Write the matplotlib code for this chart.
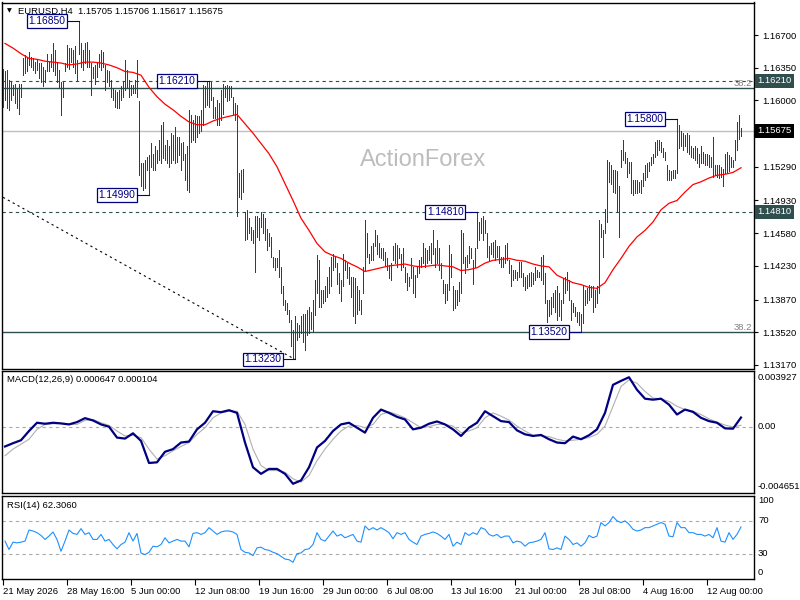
import numpy as np
import matplotlib
matplotlib.use('Agg')
import matplotlib.pyplot as plt
import matplotlib.transforms as mtransforms

# ---------------- data (EURUSD H4 bars) ----------------
highs = [
    1.1634, 1.1631, 1.1633, 1.1622, 1.1620, 1.1617, 1.1618, 1.1613, 1.1618, 1.1618,
    1.1645, 1.1649, 1.1647, 1.1652, 1.1647, 1.1645, 1.1641, 1.1643, 1.1640, 1.1640,
    1.1636, 1.1633, 1.1650, 1.1641, 1.1650, 1.1661, 1.1654, 1.1641, 1.1633, 1.1620,
    1.1620, 1.1640, 1.1659, 1.1656, 1.1656, 1.1654, 1.1658, 1.1643, 1.1685, 1.1661,
    1.1654, 1.1661, 1.1663, 1.1654, 1.1640, 1.1636, 1.1638, 1.1641, 1.1650, 1.1654,
    1.1652, 1.1638, 1.1633, 1.1631, 1.1622, 1.1613, 1.1611, 1.1609, 1.1611, 1.1615,
    1.1620, 1.1643, 1.1633, 1.1622, 1.1617, 1.1617, 1.1622, 1.1643, 1.1599, 1.1533,
    1.1533, 1.1536, 1.1540, 1.1542, 1.1554, 1.1543, 1.1551, 1.1547, 1.1558, 1.1574,
    1.1577, 1.1552, 1.1558, 1.1551, 1.1565, 1.1563, 1.1572, 1.1561, 1.1561, 1.1554,
    1.1556, 1.1543, 1.1551, 1.1590, 1.1584, 1.1579, 1.1584, 1.1583, 1.1583, 1.1590,
    1.1617, 1.1615, 1.1620, 1.1621, 1.1620, 1.1604, 1.1593, 1.1600, 1.1597, 1.1611,
    1.1618, 1.1615, 1.1617, 1.1615, 1.1615, 1.1604, 1.1597, 1.1595, 1.1522, 1.1526,
    1.1527, 1.1481, 1.1483, 1.1474, 1.1465, 1.1461, 1.1476, 1.1476, 1.1474, 1.1481,
    1.1479, 1.1474, 1.1463, 1.1458, 1.1454, 1.1433, 1.1431, 1.1431, 1.1440, 1.1422,
    1.1401, 1.1387, 1.1383, 1.1376, 1.1365, 1.1354, 1.1369, 1.1362, 1.1360, 1.1369,
    1.1372, 1.1372, 1.1376, 1.1379, 1.1374, 1.1387, 1.1408, 1.1435, 1.1429, 1.1397,
    1.1397, 1.1401, 1.1411, 1.1422, 1.1433, 1.1436, 1.1433, 1.1426, 1.1415, 1.1408,
    1.1436, 1.1429, 1.1426, 1.1422, 1.1411, 1.1411, 1.1410, 1.1401, 1.1397, 1.1387,
    1.1422, 1.1472, 1.1458, 1.1436, 1.1444, 1.1447, 1.1461, 1.1456, 1.1447, 1.1442,
    1.1442, 1.1438, 1.1431, 1.1424, 1.1426, 1.1444, 1.1447, 1.1445, 1.1442, 1.1436,
    1.1442, 1.1422, 1.1415, 1.1411, 1.1431, 1.1422, 1.1413, 1.1422, 1.1429, 1.1433,
    1.1447, 1.1442, 1.1440, 1.1444, 1.1447, 1.1461, 1.1442, 1.1451, 1.1442, 1.1426,
    1.1408, 1.1404, 1.1404, 1.1445, 1.1436, 1.1401, 1.1397, 1.1397, 1.1406, 1.1461,
    1.1458, 1.1433, 1.1435, 1.1444, 1.1442, 1.1429, 1.1442, 1.1481, 1.1470, 1.1474,
    1.1476, 1.1472, 1.1458, 1.1444, 1.1447, 1.1449, 1.1451, 1.1444, 1.1444, 1.1433,
    1.1433, 1.1445, 1.1447, 1.1429, 1.1424, 1.1419, 1.1419, 1.1417, 1.1427, 1.1427,
    1.1415, 1.1411, 1.1413, 1.1415, 1.1417, 1.1415, 1.1422, 1.1419, 1.1417, 1.1433,
    1.1435, 1.1415, 1.1387, 1.1387, 1.1390, 1.1394, 1.1397, 1.1401, 1.1394, 1.1387,
    1.1410, 1.1411, 1.1417, 1.1408, 1.1387, 1.1383, 1.1379, 1.1374, 1.1374, 1.1372,
    1.1403, 1.1397, 1.1399, 1.1403, 1.1401, 1.1401, 1.1397, 1.1401, 1.1472, 1.1468,
    1.1461, 1.1484, 1.1536, 1.1534, 1.1531, 1.1526, 1.1526, 1.1524, 1.1508, 1.1547,
    1.1558, 1.1545, 1.1538, 1.1534, 1.1534, 1.1515, 1.1515, 1.1515, 1.1513, 1.1515,
    1.1522, 1.1531, 1.1533, 1.1534, 1.1540, 1.1543, 1.1556, 1.1558, 1.1558, 1.1556,
    1.1549, 1.1545, 1.1531, 1.1526, 1.1524, 1.1526, 1.1526, 1.1580, 1.1574, 1.1567,
    1.1565, 1.1563, 1.1565, 1.1563, 1.1551, 1.1549, 1.1551, 1.1549, 1.1543, 1.1551,
    1.1545, 1.1543, 1.1543, 1.1542, 1.1540, 1.1561, 1.1531, 1.1531, 1.1531, 1.1529,
    1.1527, 1.1543, 1.1545, 1.1542, 1.1540, 1.1536, 1.1558, 1.1577, 1.1584, 1.15706,
]
lows = [
    1.1593, 1.1600, 1.1592, 1.1590, 1.1600, 1.1606, 1.1597, 1.1592, 1.1586, 1.1604,
    1.1627, 1.1629, 1.1631, 1.1638, 1.1636, 1.1633, 1.1629, 1.1633, 1.1624, 1.1620,
    1.1615, 1.1620, 1.1631, 1.1631, 1.1636, 1.1631, 1.1627, 1.1620, 1.1613, 1.1584,
    1.1604, 1.1631, 1.1636, 1.1634, 1.1641, 1.1636, 1.1629, 1.1622, 1.1650, 1.1636,
    1.1633, 1.1640, 1.1636, 1.1636, 1.1606, 1.1624, 1.1618, 1.1625, 1.1636, 1.1633,
    1.1636, 1.1611, 1.1620, 1.1615, 1.1604, 1.1600, 1.1593, 1.1592, 1.1592, 1.1600,
    1.1604, 1.1611, 1.1613, 1.1604, 1.1606, 1.1608, 1.1608, 1.1604, 1.1520, 1.1508,
    1.1504, 1.1506, 1.1526, 1.1499, 1.1529, 1.1526, 1.1526, 1.1533, 1.1536, 1.1533,
    1.1538, 1.1536, 1.1533, 1.1529, 1.1533, 1.1536, 1.1533, 1.1534, 1.1542, 1.1526,
    1.1536, 1.1515, 1.1504, 1.1502, 1.1556, 1.1558, 1.1556, 1.1561, 1.1565, 1.1567,
    1.1574, 1.1593, 1.1595, 1.1593, 1.1600, 1.1581, 1.1581, 1.1574, 1.1574, 1.1579,
    1.1586, 1.1604, 1.1599, 1.1600, 1.1604, 1.1586, 1.1579, 1.1476, 1.1497, 1.1495,
    1.1502, 1.1451, 1.1452, 1.1458, 1.1451, 1.1447, 1.1417, 1.1454, 1.1451, 1.1465,
    1.1458, 1.1451, 1.1440, 1.1444, 1.1433, 1.1422, 1.1419, 1.1422, 1.1411, 1.1394,
    1.1381, 1.1376, 1.1372, 1.1363, 1.1337, 1.1324, 1.1323, 1.1344, 1.1347, 1.1351,
    1.1342, 1.1333, 1.1349, 1.1351, 1.1356, 1.1353, 1.1370, 1.1394, 1.1379, 1.1379,
    1.1383, 1.1385, 1.1390, 1.1394, 1.1401, 1.1419, 1.1422, 1.1404, 1.1394, 1.1385,
    1.1401, 1.1419, 1.1410, 1.1404, 1.1390, 1.1369, 1.1362, 1.1372, 1.1376, 1.1372,
    1.1394, 1.1419, 1.1433, 1.1426, 1.1429, 1.1429, 1.1444, 1.1436, 1.1433, 1.1431,
    1.1429, 1.1424, 1.1419, 1.1410, 1.1408, 1.1429, 1.1426, 1.1422, 1.1431, 1.1419,
    1.1422, 1.1406, 1.1397, 1.1401, 1.1410, 1.1394, 1.1390, 1.1411, 1.1415, 1.1422,
    1.1426, 1.1422, 1.1426, 1.1429, 1.1426, 1.1436, 1.1422, 1.1426, 1.1419, 1.1410,
    1.1394, 1.1383, 1.1386, 1.1397, 1.1411, 1.1376, 1.1378, 1.1381, 1.1385, 1.1394,
    1.1426, 1.1415, 1.1422, 1.1426, 1.1431, 1.1404, 1.1422, 1.1442, 1.1451, 1.1458,
    1.1451, 1.1458, 1.1433, 1.1429, 1.1436, 1.1433, 1.1429, 1.1433, 1.1426, 1.1422,
    1.1422, 1.1426, 1.1429, 1.1415, 1.1401, 1.1408, 1.1410, 1.1408, 1.1411, 1.1411,
    1.1401, 1.1397, 1.1399, 1.1401, 1.1401, 1.1404, 1.1408, 1.1411, 1.1411, 1.1408,
    1.1404, 1.1383, 1.1363, 1.1369, 1.1372, 1.1379, 1.1374, 1.1365, 1.1369, 1.1365,
    1.1383, 1.1394, 1.1397, 1.1387, 1.1365, 1.1374, 1.1369, 1.1363, 1.1360, 1.1352,
    1.1362, 1.1381, 1.1383, 1.1387, 1.1390, 1.1374, 1.1379, 1.1383, 1.1394, 1.1454,
    1.1433, 1.1458, 1.1470, 1.1513, 1.1511, 1.1502, 1.1501, 1.1481, 1.1454, 1.1529,
    1.1536, 1.1533, 1.1518, 1.1522, 1.1501, 1.1499, 1.1501, 1.1501, 1.1502, 1.1501,
    1.1508, 1.1515, 1.1518, 1.1524, 1.1531, 1.1533, 1.1540, 1.1542, 1.1547, 1.1545,
    1.1540, 1.1536, 1.1515, 1.1515, 1.1515, 1.1517, 1.1517, 1.1522, 1.1549, 1.1551,
    1.1547, 1.1551, 1.1545, 1.1543, 1.1540, 1.1538, 1.1536, 1.1533, 1.1529, 1.1533,
    1.1533, 1.1531, 1.1531, 1.1529, 1.1529, 1.1518, 1.1520, 1.1518, 1.1517, 1.1518,
    1.1509, 1.1522, 1.1522, 1.1524, 1.1529, 1.1529, 1.1536, 1.1547, 1.1559, 1.15617,
]

# moving average (every 4th bar, ending on last bar)
ma_line = [
    1.1661, 1.1656, 1.1650, 1.1645, 1.1644, 1.1642, 1.1641, 1.1640, 1.1638, 1.1639,
    1.1641, 1.1641, 1.1640, 1.1638, 1.1635, 1.1631, 1.1630, 1.1627, 1.1614, 1.1604,
    1.1596, 1.1590, 1.1583, 1.1577, 1.1574, 1.1574, 1.1578, 1.1581, 1.1583, 1.1585,
    1.1575, 1.1565, 1.1554, 1.1543, 1.1529, 1.1511, 1.1493, 1.1474, 1.1461, 1.1447,
    1.1438, 1.1434, 1.1431, 1.1426, 1.1422, 1.1417, 1.1419, 1.1421, 1.1423, 1.1424,
    1.1425, 1.1423, 1.1422, 1.1423, 1.1424, 1.1423, 1.1422, 1.1418, 1.1419, 1.1421,
    1.1426, 1.1429, 1.1430, 1.1431, 1.1429, 1.1428, 1.1425, 1.1423, 1.1422, 1.1413,
    1.1409, 1.1405, 1.1403, 1.1400, 1.1399, 1.1405, 1.1419, 1.1431, 1.1444, 1.1454,
    1.1461, 1.1470, 1.1483, 1.1490, 1.1493, 1.1502, 1.1510, 1.1513, 1.1517, 1.1520,
    1.1521, 1.1523, 1.1528,
]

macd_main = [
    -0.001394, -0.001162, -0.000953, -0.000302, 0.000279, 0.000209, 0.000279, 0.000232, 0.000163, 0.000325,
    0.000604, 0.000441, 0.000163, 0.000000, -0.000767, -0.000837, -0.000465, -0.000999, -0.002556, -0.002510,
    -0.001766, -0.001580, -0.001116, -0.001046, -0.000186, 0.000279, 0.001092, 0.001023, 0.001162, 0.000976,
    -0.001116, -0.002859, -0.003323, -0.002975, -0.002975, -0.003323, -0.004021, -0.003788, -0.002859, -0.001464,
    -0.000999, -0.000302, 0.000163, 0.000279, -0.000070, -0.000418, 0.000627, 0.001208, 0.000976, 0.000697,
    0.000511, -0.000186, -0.000070, 0.000209, 0.000372, 0.000163, -0.000186, -0.000651, -0.000070, 0.000279,
    0.001092, 0.000744, 0.000395, 0.000325, -0.000256, -0.000535, -0.000651, -0.000581, -0.000883, -0.001116,
    -0.001162, -0.000697, -0.000883, -0.000604, -0.000186, 0.000976, 0.002951, 0.003230, 0.003486, 0.002603,
    0.001975, 0.001906, 0.001975, 0.001557, 0.000860, 0.001208, 0.001046, 0.000627, 0.000395, 0.000279,
    -0.000116, -0.000139, 0.000647,
]
macd_signal = [
    -0.002045, -0.001580, -0.001232, -0.000883, -0.000186, 0.000163, 0.000209, 0.000232, 0.000163, 0.000163,
    0.000442, 0.000511, 0.000279, 0.000093, -0.000302, -0.000651, -0.000604, -0.000767, -0.001580, -0.002278,
    -0.002045, -0.001697, -0.001394, -0.001116, -0.000535, -0.000070, 0.000627, 0.000976, 0.001092, 0.001092,
    0.000163, -0.001580, -0.002742, -0.003091, -0.003091, -0.003207, -0.003672, -0.003904, -0.003440, -0.002394,
    -0.001580, -0.000883, -0.000302, 0.000046, 0.000093, -0.000070, 0.000163, 0.000860, 0.001046, 0.000860,
    0.000627, 0.000279, -0.000070, 0.000000, 0.000163, 0.000163, 0.000046, -0.000418, -0.000302, -0.000070,
    0.000627, 0.000976, 0.000744, 0.000465, 0.000046, -0.000302, -0.000604, -0.000651, -0.000697, -0.000883,
    -0.000999, -0.000953, -0.000883, -0.000767, -0.000535, 0.000046, 0.001441, 0.002835, 0.003300, 0.003068,
    0.002487, 0.002022, 0.001952, 0.001789, 0.001441, 0.001208, 0.001092, 0.000860, 0.000558, 0.000325,
    0.000116, -0.000023, 0.000104,
]

# RSI(14) every 2nd bar, ending on last bar
rsi_line = [
    45.4, 35.3, 44.1, 43.3, 44.1, 45.4, 58.7, 57.5, 55.5, 52.2,
    47.4, 51.4, 56.3, 47.4, 33.2, 45.4, 58.7, 54.6, 53.4, 60.3,
    53.4, 55.5, 47.4, 47.4, 53.4, 45.4, 47.4, 41.3, 36.1, 41.3,
    44.1, 55.5, 45.4, 54.6, 31.2, 29.2, 32.0, 39.3, 38.5, 41.3,
    49.4, 43.3, 45.4, 47.4, 45.4, 45.4, 38.5, 54.6, 55.5, 53.4,
    55.5, 61.5, 57.5, 53.4, 56.3, 57.5, 57.5, 56.3, 53.4, 35.3,
    32.0, 31.2, 28.0, 37.3, 38.1, 35.3, 34.4, 32.0, 30.4, 27.2,
    23.9, 23.1, 20.0, 30.4, 31.2, 35.3, 36.1, 41.3, 55.5, 47.4,
    45.4, 51.4, 57.5, 51.4, 53.4, 49.4, 51.4, 53.4, 45.4, 44.1,
    63.5, 58.7, 61.5, 58.7, 61.5, 58.7, 55.5, 48.2, 55.5, 53.4,
    55.5, 47.4, 44.1, 41.3, 51.4, 53.4, 54.6, 56.3, 54.6, 51.4,
    47.4, 53.4, 39.3, 44.1, 41.3, 55.5, 52.2, 55.5, 53.4, 61.5,
    59.5, 53.4, 51.4, 53.4, 49.4, 51.4, 51.4, 43.3, 45.4, 44.1,
    39.3, 43.3, 44.1, 45.4, 47.4, 55.5, 36.1, 35.3, 37.3, 35.3,
    51.4, 47.4, 41.3, 43.3, 39.3, 43.3, 52.2, 49.4, 51.4, 67.6,
    63.5, 67.6, 74.8, 69.6, 67.6, 69.6, 65.6, 59.5, 57.5, 58.7,
    61.5, 61.5, 63.5, 65.6, 67.6, 65.6, 51.4, 50.6, 67.6, 61.5,
    61.5, 55.5, 55.5, 53.4, 53.4, 51.4, 53.4, 49.4, 61.5, 45.4,
    44.1, 55.5, 47.4, 53.4, 62.306,
]

tick_labels = ['21 May 2026', '28 May 16:00', '5 Jun 00:00', '12 Jun 08:00',
               '19 Jun 16:00', '29 Jun 00:00', '6 Jul 08:00', '13 Jul 16:00',
               '21 Jul 00:00', '28 Jul 08:00', '4 Aug 16:00', '12 Aug 00:00']
price_ticks = [1.16700, 1.16350, 1.16000, 1.15290, 1.14930, 1.14580,
               1.14230, 1.13870, 1.13520, 1.13170]

swing_bars = [38, 73, 103, 146, 237, 289, 337]
swing_prices = [1.16850, 1.14990, 1.16210, 1.13230, 1.14810, 1.13520, 1.15800]

dashed_levels = [1.16210, 1.14810]
fib_levels = [1.16130, 1.13525]
last_price = 1.15675
trend_bars = [0, 146]
trend_prices = [1.14964, 1.13230]

macd_top, macd_bottom = 0.003927, -0.004651
bars_per_label = 32

# ---------------- styling ----------------
plt.rcParams['font.family'] = ['Liberation Sans', 'DejaVu Sans']
plt.rcParams['font.size'] = 6.8
FS = 6.8
BAR = '#0B4A68'
LVL = '#2F4F4F'
NAVY = '#000080'

W, H = 800, 600
fig = plt.figure(figsize=(8, 6), dpi=100)
fig.patch.set_facecolor('white')

def rect(x0, y0, x1, y1):
    return [x0 / W, 1 - y1 / H, (x1 - x0) / W, (y1 - y0) / H]

ax1 = fig.add_axes(rect(2, 2.5, 754, 368.5))
ax2 = fig.add_axes(rect(2, 371, 754, 492.7))
ax3 = fig.add_axes(rect(2, 495.5, 754, 579))

n = len(highs)
xb = np.arange(n)
xlim = (-0.5, 375.5)
for a in (ax1, ax2, ax3):
    a.set_xlim(*xlim)
    for s in a.spines.values():
        s.set_color('black')
        s.set_linewidth(1.0)
    a.set_facecolor('white')

# ---- main price panel ----
ax1.set_ylim(1.131325, 1.170477)
ax1.axhline(last_price, color='#C0C0C0', lw=1.0, zorder=1)
for lv in dashed_levels:
    ax1.axhline(lv, color=LVL, lw=0.8, ls=(0, (3, 3)), zorder=1)
for lv in fib_levels:
    ax1.axhline(lv, color=LVL, lw=1.0, zorder=1)
    ax1.text(1 - 1.5 / 752, lv, '38.2', transform=mtransforms.blended_transform_factory(ax1.transAxes, ax1.transData),
             ha='right', va='bottom', color='#808080', fontsize=FS)
ax1.plot(trend_bars, trend_prices, color='black', lw=0.8, ls=(0, (2, 3)), zorder=2)

ax1.vlines(xb, lows, highs, color=BAR, lw=0.68, antialiased=False, zorder=3)
ma_idx = np.arange(n - 1 - 4 * (len(ma_line) - 1), n, 4)
ax1.plot(ma_idx, ma_line, color='#FF0000', lw=0.9, zorder=4)

for b, p in zip(swing_bars, swing_prices):
    off = 5.5
    ax1.plot([b - off, b], [p, p], color=NAVY, lw=0.8, zorder=5)
    ax1.text(b - off - 1.2, p, f'{p:.5f}', ha='right', va='center', color=NAVY, fontsize=7.4,
             bbox=dict(boxstyle='square,pad=0.18', fc='white', ec=NAVY, lw=0.9), zorder=6)

ax1.text(0.56, 0.57, 'ActionForex', transform=ax1.transAxes, ha='center', va='center',
         fontsize=17, color='#BDBDBD', zorder=2)
ax1.text(0.0095, 0.9765, '\u25BC', transform=ax1.transAxes, ha='center', va='center',
         fontsize=4.5, color='black', family='DejaVu Sans')
ax1.text(0.0213, 0.9765, 'EURUSD,H4  1.15705 1.15706 1.15617 1.15675', transform=ax1.transAxes,
         ha='left', va='center', fontsize=FS, color='black')

ax1.yaxis.tick_right()
ax1.set_yticks(price_ticks)
ax1.set_yticklabels([f'{p:.5f}' for p in price_ticks])
ax1.tick_params(axis='y', direction='out', length=3, width=0.8, pad=3, labelsize=FS)
ax1.set_xticks([])

btr = mtransforms.blended_transform_factory(ax1.transAxes, ax1.transData)
for lv in dashed_levels:
    ax1.text(1 + 3.5 / 752, lv, f'{lv:.5f}', transform=btr, ha='left', va='center', color='white',
             fontsize=FS, bbox=dict(boxstyle='square,pad=0.25', fc=LVL, ec='none'), clip_on=False)
ax1.text(1 + 3.5 / 752, last_price, f'{last_price:.5f}', transform=btr, ha='left', va='center',
         color='white', fontsize=FS, bbox=dict(boxstyle='square,pad=0.25', fc='black', ec='none'),
         clip_on=False)

# ---- MACD panel ----
ax2.set_ylim(macd_bottom, macd_top)
ax2.axhline(0, color='#A9A9A9', lw=0.8, ls=(0, (3, 3)))
mi = np.arange(n - 1 - 4 * (len(macd_main) - 1), n, 4)
si = np.arange(n - 1 - 4 * (len(macd_signal) - 1), n, 4)
ax2.plot(si, macd_signal, color='#B0B0B0', lw=0.8)
ax2.plot(mi, macd_main, color=NAVY, lw=1.6)
ax2.set_xticks([])
ax2.set_yticks([])
ax2.text(0.0067, 0.934, f'MACD(12,26,9) {macd_main[-1]:.6f} {macd_signal[-1]:.6f}', transform=ax2.transAxes,
         ha='left', va='center', fontsize=FS)
t2 = mtransforms.blended_transform_factory(ax2.transAxes, ax2.transData)
ax2.text(1 + 4 / 752, 0.95, f'{macd_top:.6f}', transform=ax2.transAxes, ha='left', va='center', fontsize=FS, clip_on=False)
ax2.text(1 + 4 / 752, 0.0, '0.00', transform=t2, ha='left', va='center', fontsize=FS, clip_on=False)
ax2.text(1 + 4 / 752, 0.047, f'{macd_bottom:.6f}', transform=ax2.transAxes, ha='left', va='center', fontsize=FS, clip_on=False)

# ---- RSI panel ----
ax3.set_ylim(0, 100)
for lv in (70, 30):
    ax3.axhline(lv, color='#A9A9A9', lw=0.8, ls=(0, (3, 3)))
ri = np.arange(n - 1 - 2 * (len(rsi_line) - 1), n, 2)
ax3.plot(ri, rsi_line, color='#1E90FF', lw=0.8)
ax3.text(0.0067, 0.886, f'RSI(14) {rsi_line[-1]:.4f}', transform=ax3.transAxes, ha='left', va='center', fontsize=FS)
t3 = mtransforms.blended_transform_factory(ax3.transAxes, ax3.transData)
ax3.text(1 + 4 / 752, 99, '100', transform=t3, ha='left', va='top', fontsize=FS, clip_on=False)
ax3.text(1 + 4 / 752, 70, '70', transform=t3, ha='left', va='center', fontsize=FS, clip_on=False)
ax3.text(1 + 4 / 752, 30, '30', transform=t3, ha='left', va='center', fontsize=FS, clip_on=False)
ax3.text(1 + 4 / 752, 2, '0', transform=t3, ha='left', va='bottom', fontsize=FS, clip_on=False)
ax3.set_yticks([])
tick_pos = np.arange(len(tick_labels)) * bars_per_label
ax3.set_xticks(tick_pos)
ax3.set_xticklabels(tick_labels, ha='left')
ax3.tick_params(axis='x', direction='out', length=4, width=0.8, pad=1.5, labelsize=FS)

fig.savefig('out.png', dpi=100, facecolor='white')
